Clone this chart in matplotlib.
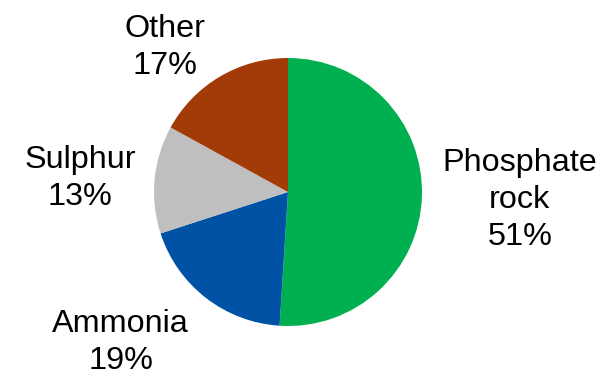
"""Pie chart of input shares: phosphate rock, ammonia, sulphur, other."""

import matplotlib

matplotlib.use("Agg")
import matplotlib.pyplot as plt

CATEGORIES = ["Phosphate\nrock", "Ammonia", "Sulphur", "Other"]
SHARES = [51, 19, 13, 17]
COLORS = ["#00B050", "#0052A5", "#BFBFBF", "#A33B08"]
# label centre positions, in units of pie radius from the centre
LABEL_POS = [(1.73, -0.06), (-1.25, -1.12), (-1.55, 0.10), (-0.92, 1.08)]


def main():
    plt.rcParams["font.family"] = ["Liberation Sans", "DejaVu Sans"]
    figure = plt.figure(figsize=(6.03, 3.72), dpi=100)
    axis = figure.add_axes([0, 0, 1, 1])

    wedges, texts = axis.pie(
        SHARES,
        labels=[f"{c}\n{s}%" for c, s in zip(CATEGORIES, SHARES)],
        colors=COLORS,
        startangle=90,
        counterclock=False,
        radius=1.0,
        wedgeprops={"linewidth": 0},
        textprops={"fontsize": 23.3, "ha": "center", "va": "center",
                   "linespacing": 1.3},
    )
    for text, pos in zip(texts, LABEL_POS):
        text.set_position(pos)
        text.set_horizontalalignment("center")
        text.set_verticalalignment("center")

    axis.set_xlim(-288 / 134, (603 - 288) / 134)
    axis.set_ylim(-(372 - 192) / 134, 192 / 134)
    axis.set_aspect("equal")
    axis.axis("off")
    figure.savefig("out.png", dpi=100, facecolor="white")
    plt.close(figure)


if __name__ == "__main__":
    main()
